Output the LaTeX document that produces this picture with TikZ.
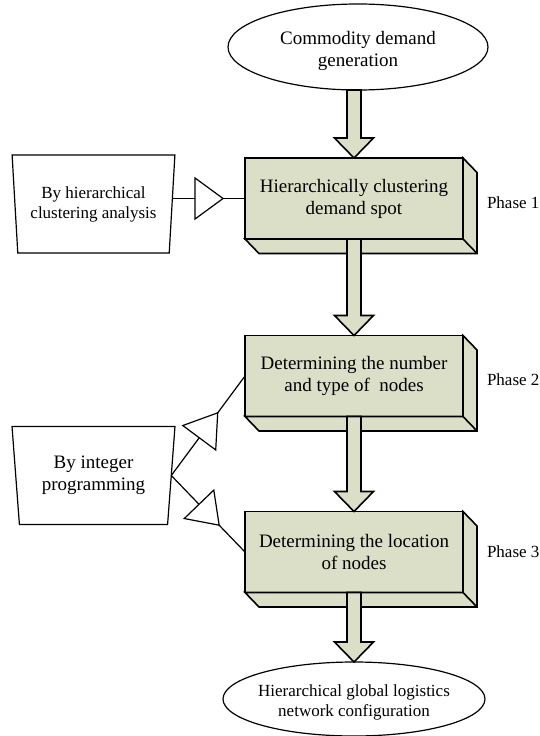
\documentclass[tikz,border=0pt]{standalone}
\usepackage{fontspec}
\setmainfont{Liberation Serif}
\usetikzlibrary{shapes.geometric,calc}
\definecolor{boxfill}{RGB}{220,223,200}

% raised slab under a phase box: right face and bottom face
\newcommand\slab[1]{%
  \draw[face] (#1.north east) -- ++(14,14.5) -- ($(#1.south east)+(14,14.5)$)
    -- ($(#1.south west)+(14,14.5)$) -- (#1.south west) -- (#1.south east) -- cycle;
  \draw[face] (#1.south east) -- ++(14,14.5);}
% thick hollow arrow from one anchor down to another
\newcommand\blockarrow[2]{%
  \draw[barrow] ($(#1)+(-7,0)$) -- ($(#2)+(-7,-20)$) -- ($(#2)+(-19.5,-20)$) -- (#2)
    -- ($(#2)+(19.5,-20)$) -- ($(#2)+(7,-20)$) -- ($(#1)+(7,0)$) -- cycle;}
% open triangle on a link: from, to, base distance, tip distance
\newcommand\valvetri[4]{%
  \coordinate (vb) at ($(#1)!#3!(#2)$);
  \coordinate (vt) at ($(#1)!#4!(#2)$);
  \draw[valve] ($(vb)!20.5pt!90:(#2)$) -- (vt) -- ($(vb)!20.5pt!-90:(#2)$) -- cycle;}

\begin{document}
\begin{tikzpicture}[x=1pt,y=-1pt,
  every node/.style={inner sep=0pt,outer sep=0pt},
  endpoint/.style={ellipse,draw,line width=1.2pt,fill=white},
  phasebox/.style={rectangle,draw,line width=1.6pt,fill=boxfill,minimum width=218pt,
    minimum height=81pt,align=center,font=\fontsize{19}{22}\selectfont},
  sidebox/.style={trapezium,trapezium left angle=82.4,trapezium right angle=82.4,
    shape border rotate=180,trapezium stretches=true,minimum width=163pt,
    minimum height=98pt,draw,line width=1.2pt,align=center},
  face/.style={draw,line width=1.6pt,fill=boxfill,line join=miter},
  barrow/.style={draw,line width=1.6pt,fill=boxfill,line join=miter},
  link/.style={line width=1.2pt},
  valve/.style={draw,line width=1.2pt,fill=white,line join=miter},
  phaselabel/.style={anchor=west,font=\fontsize{17}{20}\selectfont}]

\useasboundingbox (0,0) rectangle (540,736);

% start and end of the flow
\node[endpoint,minimum width=260pt,minimum height=86pt] (src) at (358,47) {};
\node[align=center,font=\fontsize{19}{22}\selectfont] (srctext) at (358,51) {Commodity demand\\generation};
\node[endpoint,minimum width=262pt,minimum height=74pt] (dst) at (354,699) {};
\node[align=center,font=\fontsize{17}{20}\selectfont] (dsttext) at (354,702) {Hierarchical global logistics\\network configuration};

% the three phases
\node[phasebox] (box1) at (354,198.5) {Hierarchically clustering\\demand spot};
\node[phasebox] (box2) at (354,376) {Determining the number\\and type of\ \ nodes};
\node[phasebox] (box3) at (354,552) {Determining the location\\of nodes};
\slab{box1}
\slab{box2}
\slab{box3}

\node[phaselabel] (ph1) at (487,203) {Phase 1};
\node[phaselabel] (ph2) at (487,380) {Phase 2};
\node[phaselabel] (ph3) at (487,552) {Phase 3};

% methods
\node[sidebox,font=\fontsize{17}{20}\selectfont] (hca) at (93.5,204) {By hierarchical\\clustering analysis};
\node[sidebox,font=\fontsize{19}{22}\selectfont] (ip) at (93.5,475.5) {By integer\\programming};

% main flow
\blockarrow{box1.north |- src.south}{box1.north}
\blockarrow{box1.south}{box2.north}
\blockarrow{box2.south}{box3.north}
\blockarrow{box3.south}{dst.north}

% method links
\coordinate (c1) at (box1.west -| hca.east);
\draw[link] (c1) -- (box1.west);
\valvetri{c1}{box1.west}{23pt}{51pt}
\draw[link] (ip.east) -- (box2.west);
\valvetri{ip.east}{box2.west}{47pt}{78pt}
\draw[link] (ip.east) -- (box3.west);
\valvetri{ip.east}{box3.west}{40pt}{69pt}
\end{tikzpicture}
\end{document}
